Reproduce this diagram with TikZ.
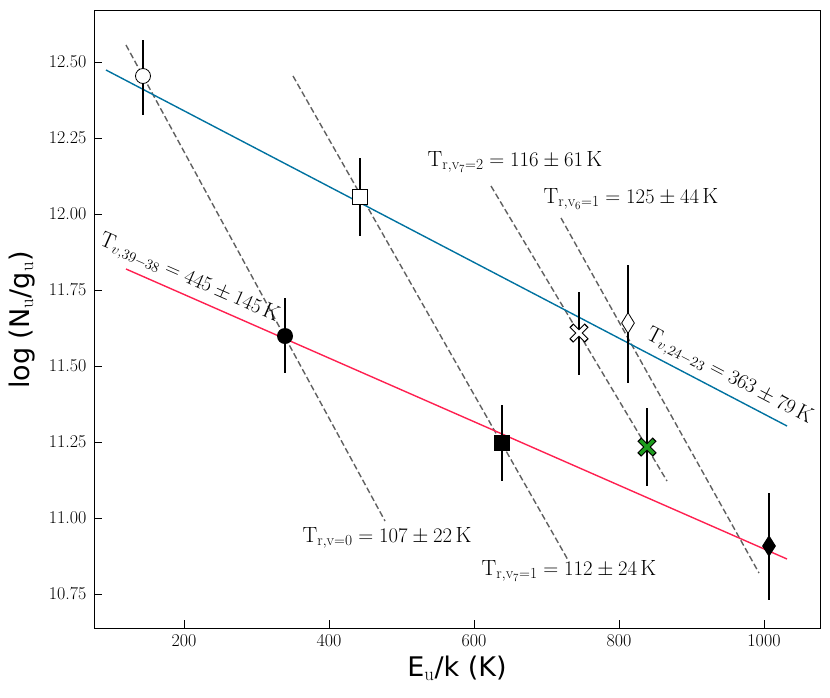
\documentclass[tikz,border=0pt]{standalone}
\usepackage{fontspec}
\newfontfamily\dvs{DejaVu Sans}
\usetikzlibrary{shapes.geometric,shapes.misc}
\definecolor{bl}{HTML}{0072A0}
\definecolor{rd}{HTML}{FF2050}
\definecolor{gr}{HTML}{1E9E1E}
\begin{document}
\begin{tikzpicture}[x=1pt,y=-1pt,
  dl/.style={dashed,dash pattern=on 6pt off 3pt,gray!75!black,line width=1.4pt},
  eb/.style={line width=1.2pt},
  lab/.style={font=\fontsize{22}{22}\selectfont,inner sep=0pt},
  tk/.style={font=\fontsize{18}{18}\selectfont}]
\useasboundingbox (0,0) rectangle (830,697);
\draw[line width=1pt] (94,10) rectangle (820,628);
\foreach \x/\l in {184/200,329/400,474/600,619/800,764/1000}
  {\draw[line width=1pt] (\x,628) -- (\x,620); \node[tk,below] at (\x,631) {\l};}
\foreach \y/\l in {62/12.50,138/12.25,214/12.00,290/11.75,366/11.50,442/11.25,518/11.00,594/10.75}
  {\draw[line width=1pt] (94,\y) -- (102,\y); \node[tk,left] at (90,\y) {\l};}
\node[font=\dvs\fontsize{27}{27}\selectfont] at (457,668) {E$_\mathrm{u}$/k (K)};
\node[font=\dvs\fontsize{27}{27}\selectfont,rotate=90] at (22,320) {log (N$_\mathrm{u}$/g$_\mathrm{u}$)};
% dashed lines
\coordinate (d1a) at (126,45); \coordinate (d1b) at (385,521);
\coordinate (d2a) at (293,76); \coordinate (d2b) at (568,560);
\coordinate (d3a) at (491,186); \coordinate (d3b) at (667,481);
\coordinate (d4a) at (561,218); \coordinate (d4b) at (759,573);
\draw[dl] (d1a) -- (d1b); \draw[dl] (d2a) -- (d2b);
\draw[dl] (d3a) -- (d3b); \draw[dl] (d4a) -- (d4b);
% fit lines
\coordinate (ba) at (106,70); \coordinate (bb) at (787,426);
\coordinate (ra) at (126,269); \coordinate (rb) at (787,559);
\draw[bl,line width=1.4pt] (ba) -- (bb);
\draw[rd,line width=1.4pt] (ra) -- (rb);
% error bars
\foreach \x/\a/\b in {143/40/115,360/158/236,285/298/373,502/405/481,579/292/375,628/265/383,647/408/486,769/493/600}
  \draw[eb] (\x,\a) -- (\x,\b);
% points
\node[circle,draw,fill=white,line width=0.8pt,minimum size=15pt,inner sep=0] (p1) at (143,76) {};
\node[rectangle,draw,fill=white,line width=0.8pt,minimum size=15pt,inner sep=0] (p2) at (360,197) {};
\node[circle,fill=black,minimum size=16pt,inner sep=0] (p3) at (285,336) {};
\node[rectangle,fill=black,minimum size=16pt,inner sep=0] (p4) at (502,443) {};
\node[cross out,draw=black,line width=5.5pt,minimum size=10pt,inner sep=0] at (579,333) {};
\node[cross out,draw=white,line width=3.5pt,minimum size=10pt,inner sep=0] (p5) at (579,333) {};
\node[diamond,draw,fill=white,line width=0.8pt,minimum width=13pt,minimum height=21pt,inner sep=0] (p6) at (628,323) {};
\node[cross out,draw=black,line width=5.5pt,minimum size=10pt,inner sep=0] at (647,447) {};
\node[cross out,draw=gr,line width=3.5pt,minimum size=10pt,inner sep=0] (p7) at (647,447) {};
\node[diamond,fill=black,minimum width=14pt,minimum height=22pt,inner sep=0] (p8) at (769,546) {};
% labels
\node[lab] at (387,538) {$\mathrm{T_{r,v=0}}=107\pm22\,\mathrm{K}$};
\node[lab] at (569,571) {$\mathrm{T_{r,v_7=1}}=112\pm24\,\mathrm{K}$};
\node[lab] at (515,162) {$\mathrm{T_{r,v_7=2}}=116\pm61\,\mathrm{K}$};
\node[lab] at (631,199) {$\mathrm{T_{r,v_6=1}}=125\pm44\,\mathrm{K}$};
\node[lab,rotate=-23.7] at (189,279) {$\mathrm{T}_{v,39-38}=445\pm145\,\mathrm{K}$};
\node[lab,rotate=-27.6] at (729,377) {$\mathrm{T}_{v,24-23}=363\pm79\,\mathrm{K}$};
\end{tikzpicture}
\end{document}
